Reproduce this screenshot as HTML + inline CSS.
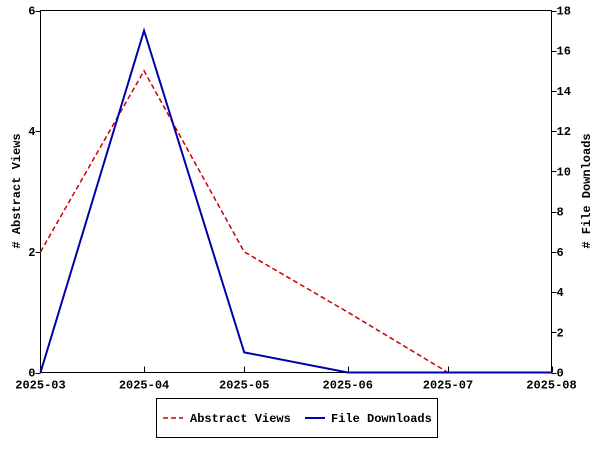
<!DOCTYPE html>
<html><head><meta charset="utf-8"><style>
body{margin:0;background:#fff;}
svg text{font-family:"Liberation Mono",monospace;font-weight:bold;font-size:12px;fill:#000;}
</style></head><body>
<svg id="c" width="600" height="450" xmlns="http://www.w3.org/2000/svg"></svg>
<script>
const categories=["2025-03","2025-04","2025-05","2025-06","2025-07","2025-08"];
const dayOffsets=[0,31,61,92,122,153];
const abstractViews=[2,5,2,1,0,0];
const fileDownloads=[0,17,1,0,0,0];
const leftTicks=[0,2,4,6];
const rightTicks=[0,2,4,6,8,10,12,14,16,18];
const L=40.5,R=551.5,T=10.5,B=372.5;
const svg=document.getElementById('c');
const NS='http://www.w3.org/2000/svg';
function el(tag,attrs,parent){const e=document.createElementNS(NS,tag);for(const k in attrs)e.setAttribute(k,attrs[k]);(parent||svg).appendChild(e);return e;}
const x=i=>L+(R-L)*dayOffsets[i]/dayOffsets[dayOffsets.length-1];
const yL=v=>B-(B-T)*v/6;
const yR=v=>B-(B-T)*v/18;
const frame=el('rect',{x:L,y:T,width:R-L,height:B-T,fill:'none',stroke:'#000'});


leftTicks.forEach(v=>{
  const t=el('line',{x1:L-5,x2:L,y1:Math.round(yL(v))+0.5,y2:Math.round(yL(v))+0.5,stroke:'#000'});
  
  
  const tx=el('text',{x:L-5,y:yL(v)+4,'text-anchor':'end'});tx.textContent=v;
  
  
});
rightTicks.forEach(v=>{
  const t=el('line',{x1:R,x2:R+5,y1:Math.round(yR(v))+0.5,y2:Math.round(yR(v))+0.5,stroke:'#000'});
  
  
  const tx=el('text',{x:R+5,y:yR(v)+4});tx.textContent=v;
  
  
});
categories.forEach((c,i)=>{
  const xi=Math.round(x(i))+0.5;
  const t=el('line',{x1:xi,x2:xi,y1:B-6,y2:B,stroke:'#000'});
  
  
  const tx=el('text',{x:x(i),y:B+16,'text-anchor':'middle'});tx.textContent=c;
  
  
});
const yt=el('text',{x:0,y:0,transform:'translate(20,191) rotate(-90)','text-anchor':'middle','font-size':'14'});
yt.textContent='# Abstract Views';


const yt2=el('text',{x:0,y:0,transform:'translate(590,191) rotate(-90)','text-anchor':'middle','font-size':'14'});
yt2.textContent='# File Downloads';


const p1=el('polyline',{points:abstractViews.map((v,i)=>x(i)+','+yL(v)).join(' '),fill:'none',stroke:'#cc0000','stroke-width':1.5,'stroke-dasharray':'5,3'});


const p2=el('polyline',{points:fileDownloads.map((v,i)=>x(i)+','+yR(v)).join(' '),fill:'none',stroke:'#0000aa','stroke-width':2});


const lg=el('g',{});


el('rect',{x:156.5,y:398.5,width:281,height:39,fill:'#fff',stroke:'#000'},lg);
const l1=el('line',{x1:163,x2:183,y1:418,y2:418,stroke:'#cc0000','stroke-width':1.5,'stroke-dasharray':'5,3'},lg);


const t1=el('text',{x:190,y:422},lg);t1.textContent='Abstract Views';


const l2=el('line',{x1:305,x2:325,y1:418,y2:418,stroke:'#0000aa','stroke-width':2},lg);


const t2=el('text',{x:331,y:422},lg);t2.textContent='File Downloads';


</script>
</body></html>
